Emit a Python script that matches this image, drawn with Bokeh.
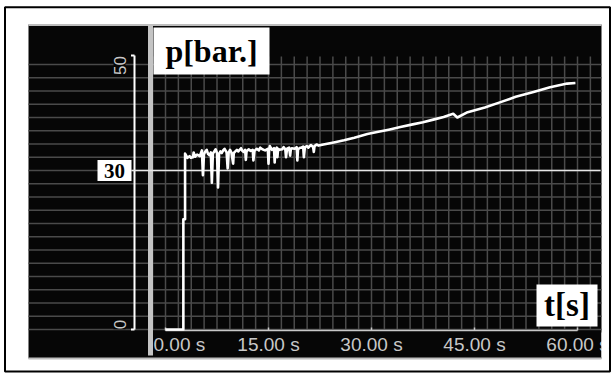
import numpy as np
from math import pi
from bokeh.plotting import figure
from bokeh.models import Range1d, Label, BoxAnnotation
from bokeh.embed import file_html
from bokeh.resources import INLINE

# ---------------- data ----------------
time_s = [0.0, 2.6, 2.6, 2.85, 2.85, 3.2, 3.5, 3.7, 4.0, 4.1, 4.3, 4.6, 5.0, 5.3, 5.45, 5.6,
          5.75, 6.0, 6.2, 6.4, 6.6, 6.75, 6.9, 7.1, 7.3, 7.5, 7.65, 7.8, 8.0, 8.2, 8.4, 8.6,
          8.9, 9.05, 9.2, 9.4, 9.6, 9.85, 9.95, 10.1, 10.4, 10.6, 11.0, 11.2, 11.4, 11.6,
          11.7, 11.8, 12.1, 12.4, 12.7, 12.8, 12.95, 13.3, 13.6, 13.8, 14.1, 14.5, 14.9,
          15.0, 15.1, 15.2, 15.5, 15.8, 15.9, 16.0, 16.2, 16.3, 16.4, 16.6, 17.0, 17.2,
          17.45, 17.55, 17.7, 18.0, 18.15, 18.25, 18.4, 18.8, 19.1, 19.2, 19.3, 19.6, 19.8,
          20.05, 20.15, 20.3, 20.6, 20.8, 21.0, 21.2, 21.5, 21.6, 21.7, 22.0, 22.3,
          23.0, 24.5, 26.0, 27.5, 29.4, 31.0, 32.5, 34.2, 36.0, 37.5, 39.0, 40.5, 41.9,
          42.5, 44.0, 46.5, 48.8, 51.0, 53.6, 56.0, 58.5, 59.7]
pressure_bar = [0.0, 0.0, 20.8, 20.8, 33.2, 32.4, 32.7, 32.4, 32.5, 33.4, 32.6, 33.0, 32.7, 33.8, 29.1, 33.0,
                33.5, 33.9, 33.1, 32.9, 33.4, 27.7, 33.2, 33.6, 34.0, 33.3, 26.8, 33.1, 33.6, 33.3, 33.8, 34.1,
                33.4, 30.4, 33.4, 33.9, 33.4, 31.3, 33.3, 33.5, 33.9, 33.6, 34.2, 33.7, 33.5, 33.9,
                32.0, 33.6, 34.0, 33.7, 33.9, 31.9, 33.7, 34.1, 33.8, 34.3, 34.0, 33.8, 34.1,
                31.3, 34.0, 34.6, 33.9, 34.2, 31.5, 33.9, 34.3, 32.5, 34.1, 33.9, 34.0, 34.4,
                34.0, 32.5, 34.1, 34.3, 32.8, 34.0, 34.2, 34.1, 34.4, 31.9, 34.0, 34.3, 34.3,
                34.5, 32.5, 34.4, 34.6, 34.3, 34.6, 34.8, 34.4, 33.5, 34.6, 34.9, 34.7,
                34.9, 35.3, 35.7, 36.2, 36.9, 37.3, 37.7, 38.2, 38.7, 39.1, 39.6, 40.1, 40.7,
                40.0, 41.0, 41.9, 42.9, 43.9, 44.8, 45.7, 46.4, 46.5]

x_ticks = [0, 15, 30, 45, 60]
x_tick_labels = ["0.00 s", "15.00 s", "30.00 s", "45.00 s", "60.00 s"]
y_ticks = [0, 50]
y_tick_labels = ["0", "50"]
ref_level = 30
ref_label = "30"
y_title = "p[bar.]"
x_title = "t[s]"

# ---------------- layout ----------------
W, H = 616, 374
KX = 412 / 60.0   # px per second
KY = 265 / 50.0   # px per bar
X0 = 165          # page x of t = 0
Y0 = 329          # page y of p = 0


def px(x):  # page pixel -> data x
    return (x - X0) / KX


def py(y):  # page pixel -> data y
    return (Y0 - y) / KY


BG = "#060606"
GRID = "#4a4a4a"
LIGHT = "#c8c8c8"

p = figure(width=W, height=H,
           x_range=Range1d(px(0), px(W)),
           y_range=Range1d(py(H), py(0)),
           x_axis_type=None, y_axis_type=None,
           output_backend="svg", toolbar_location=None, min_border=0,
           background_fill_color="white", border_fill_color="white",
           outline_line_color=None)

# outer border
p.quad(left=[px(4.5)], right=[px(609.5)], top=[py(6.7)], bottom=[py(371)],
       fill_color=None, line_color="black", line_width=2)

# dark panel
p.quad(left=[px(28)], right=[px(601)], top=[py(24)], bottom=[py(358)],
       fill_color=BG, line_color=None)
p.segment(x0=[px(28)], y0=[py(24.5)], x1=[px(601)], y1=[py(24.5)], color="#bdbdbd", line_width=2)
p.segment(x0=[px(28)], y0=[py(358)], x1=[px(601)], y1=[py(358)], color="#bdbdbd", line_width=2)

# grid
gx = np.arange(-1, 34) * 1.875
gx = gx[(gx >= px(152)) & (gx <= px(601))]
p.segment(x0=gx, y0=0, x1=gx, y1=py(56), color=GRID, line_width=1.5)
gy = np.arange(0, 21) * 2.5
p.segment(x0=px(28), y0=gy, x1=px(601), y1=gy, color=GRID, line_width=1.5)

# vertical grey bar
p.quad(left=[px(147.5)], right=[px(152.5)], top=[py(24)], bottom=[py(355)],
       fill_color="#c4c4c4", line_color=None)

# y bracket
p.segment(x0=[px(134)], y0=[0], x1=[px(134)], y1=[py(55)], color="white", line_width=2)
p.segment(x0=[px(130.5), px(130.5)], y0=[0, py(55)], x1=[px(134), px(134)], y1=[0, py(55)],
          color="white", line_width=2)

# reference line 30
p.segment(x0=[px(131)], y0=[ref_level], x1=[px(600)], y1=[ref_level], color="#e6e6e6", line_width=1.5)

# x axis
ya = py(330)
p.segment(x0=[x_ticks[0]], y0=[ya], x1=[x_ticks[-1]], y1=[ya], color=LIGHT, line_width=1.5)
p.segment(x0=x_ticks, y0=ya, x1=x_ticks, y1=py(327), color=LIGHT, line_width=1.5)

# data
p.line(time_s, pressure_bar, color="white", line_width=2.6, line_join="round")

# label boxes
p.quad(left=[px(97)], right=[px(131)], top=[ref_level + 10.5 / KY], bottom=[ref_level - 10.5 / KY],
       fill_color="white", line_color=None)
p.quad(left=[px(153)], right=[px(269)], top=[py(27)], bottom=[py(74)], fill_color="white", line_color=None)
p.quad(left=[px(536)], right=[px(597)], top=[py(284)], bottom=[py(326)], fill_color="white", line_color=None)

p.add_layout(Label(x=px(114), y=ref_level, text=ref_label, text_font="Liberation Serif",
                   text_font_style="bold", text_font_size="21px", text_align="center",
                   text_baseline="middle", text_color="black"))
p.add_layout(Label(x=px(211), y=py(50), text=y_title, text_font="Liberation Serif",
                   text_font_style="bold", text_font_size="32px", text_align="center",
                   text_baseline="middle", text_color="black"))
p.add_layout(Label(x=px(566.5), y=py(304), text=x_title, text_font="Liberation Serif",
                   text_font_style="bold", text_font_size="33px", text_align="center",
                   text_baseline="middle", text_color="black"))

# y tick labels (rotated)
y_label_pos = [py(324), py(65)]
for yy, lab in zip(y_label_pos, y_tick_labels):
    p.add_layout(Label(x=px(119), y=yy, text=lab, angle=pi / 2, text_font="Liberation Sans",
                       text_font_size="17px", text_align="center", text_baseline="middle",
                       text_color=LIGHT, background_fill_color=BG))

# x tick labels
for t, lab in zip(x_ticks, x_tick_labels):
    first = t == x_ticks[0]
    p.add_layout(Label(x=t, y=py(344), text=lab, x_offset=-12 if first else 0,
                       text_font="Liberation Sans", text_font_size="19px",
                       text_align="left" if first else "center", text_baseline="middle",
                       text_color=LIGHT))

# clip beyond the panel's right edge
p.add_layout(BoxAnnotation(left=px(601), right=px(608), top=py(332), bottom=py(357),
                           fill_color="white", fill_alpha=1.0, line_color=None))

open("out.html", "w").write(file_html(p, INLINE))
